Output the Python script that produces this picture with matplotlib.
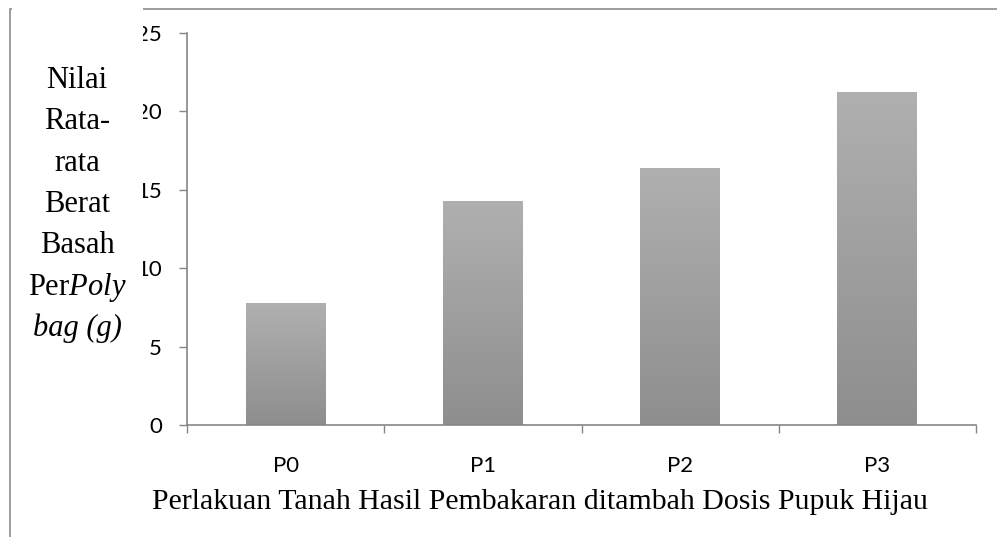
import matplotlib
matplotlib.use('Agg')
import matplotlib.pyplot as plt
import numpy as np
from matplotlib.colors import LinearSegmentedColormap
from matplotlib.patches import Rectangle

# donnees
perlakuan = ['P0', 'P1', 'P2', 'P3']
berat_basah = [7.8, 14.3, 16.4, 21.25]
y_ticks = [0, 5, 10, 15, 20, 25]
label_y = ['Nilai', 'Rata-', 'rata', 'Berat', 'Basah', r'Per$\it{Poly}$', 'bag (g)']
label_y_italique = [False, False, False, False, False, False, True]
label_x = 'Perlakuan Tanah Hasil Pembakaran ditambah Dosis Pupuk Hijau'

plt.rcParams['mathtext.fontset'] = 'custom'
plt.rcParams['mathtext.rm'] = 'Liberation Serif'
plt.rcParams['mathtext.it'] = 'Liberation Serif:italic'

W, H = 997, 537
fig = plt.figure(figsize=(W/100, H/100), dpi=100)
gris_axe = '#868686'

def fx(px):
    return px/W

def fy(py):
    return 1-py/H

ax = fig.add_axes([fx(187), fy(425), fx(976)-fx(187), fy(33)-fy(425)])

x = np.arange(len(perlakuan))
barres = ax.bar(x, berat_basah, width=0.405, color='none', edgecolor='none')

# degrade gris (clair en haut, fonce en bas)
degrade = LinearSegmentedColormap.from_list('g', ['#8E8E8E', '#B0B0B0'])
grad = np.linspace(0, 1, 256).reshape(-1, 1)
for b in barres:
    x0 = b.get_x()
    im = ax.imshow(grad, extent=(x0, x0+b.get_width(), 0, b.get_height()),
                   origin='lower', cmap=degrade, aspect='auto', zorder=2)
    im.set_clip_path(b)
    b.set_zorder(2)

ax.set_xlim(-0.5, 3.5)
ax.set_ylim(0, 25)
ax.set_yticks(y_ticks)
ax.set_yticklabels([str(t) for t in y_ticks], fontfamily='Lato', fontsize=16)
ax.set_xticks(x)
ax.set_xticklabels(perlakuan, fontfamily='Lato', fontsize=16)
ax.set_xticks(np.arange(-0.5, 4, 1), minor=True)
ax.tick_params(axis='x', which='major', length=0, pad=22.5)
ax.tick_params(axis='x', which='minor', length=6, direction='out', color=gris_axe, width=1)
ax.tick_params(axis='y', length=6, direction='out', color=gris_axe, width=1, pad=12)
for s in ['top', 'right']:
    ax.spines[s].set_visible(False)
for s in ['left', 'bottom']:
    ax.spines[s].set_color(gris_axe)
    ax.spines[s].set_linewidth(1.2)

# cadre du graphique
fig.patches.append(Rectangle((fx(10), fy(600)), 1.2, fy(9)-fy(600), transform=fig.transFigure,
                             facecolor='none', edgecolor='#8C8C8C', linewidth=1.2, zorder=5))
# zone de texte blanche du titre de l'axe y
fig.patches.append(Rectangle((fx(12), fy(360)), fx(143)-fx(12), fy(0)-fy(360), transform=fig.transFigure,
                             facecolor='white', edgecolor='none', zorder=6))

for i, ligne in enumerate(label_y):
    fig.text(fx(77), fy(88+41.3*i), ligne, ha='center', va='baseline',
             fontfamily='Liberation Serif', fontsize=22, zorder=7,
             fontstyle='italic' if label_y_italique[i] else 'normal')

fig.text(fx(540), fy(502), label_x, ha='center', va='center',
         fontfamily='Liberation Serif', fontsize=21.5)

fig.savefig('out.png', dpi=100)
